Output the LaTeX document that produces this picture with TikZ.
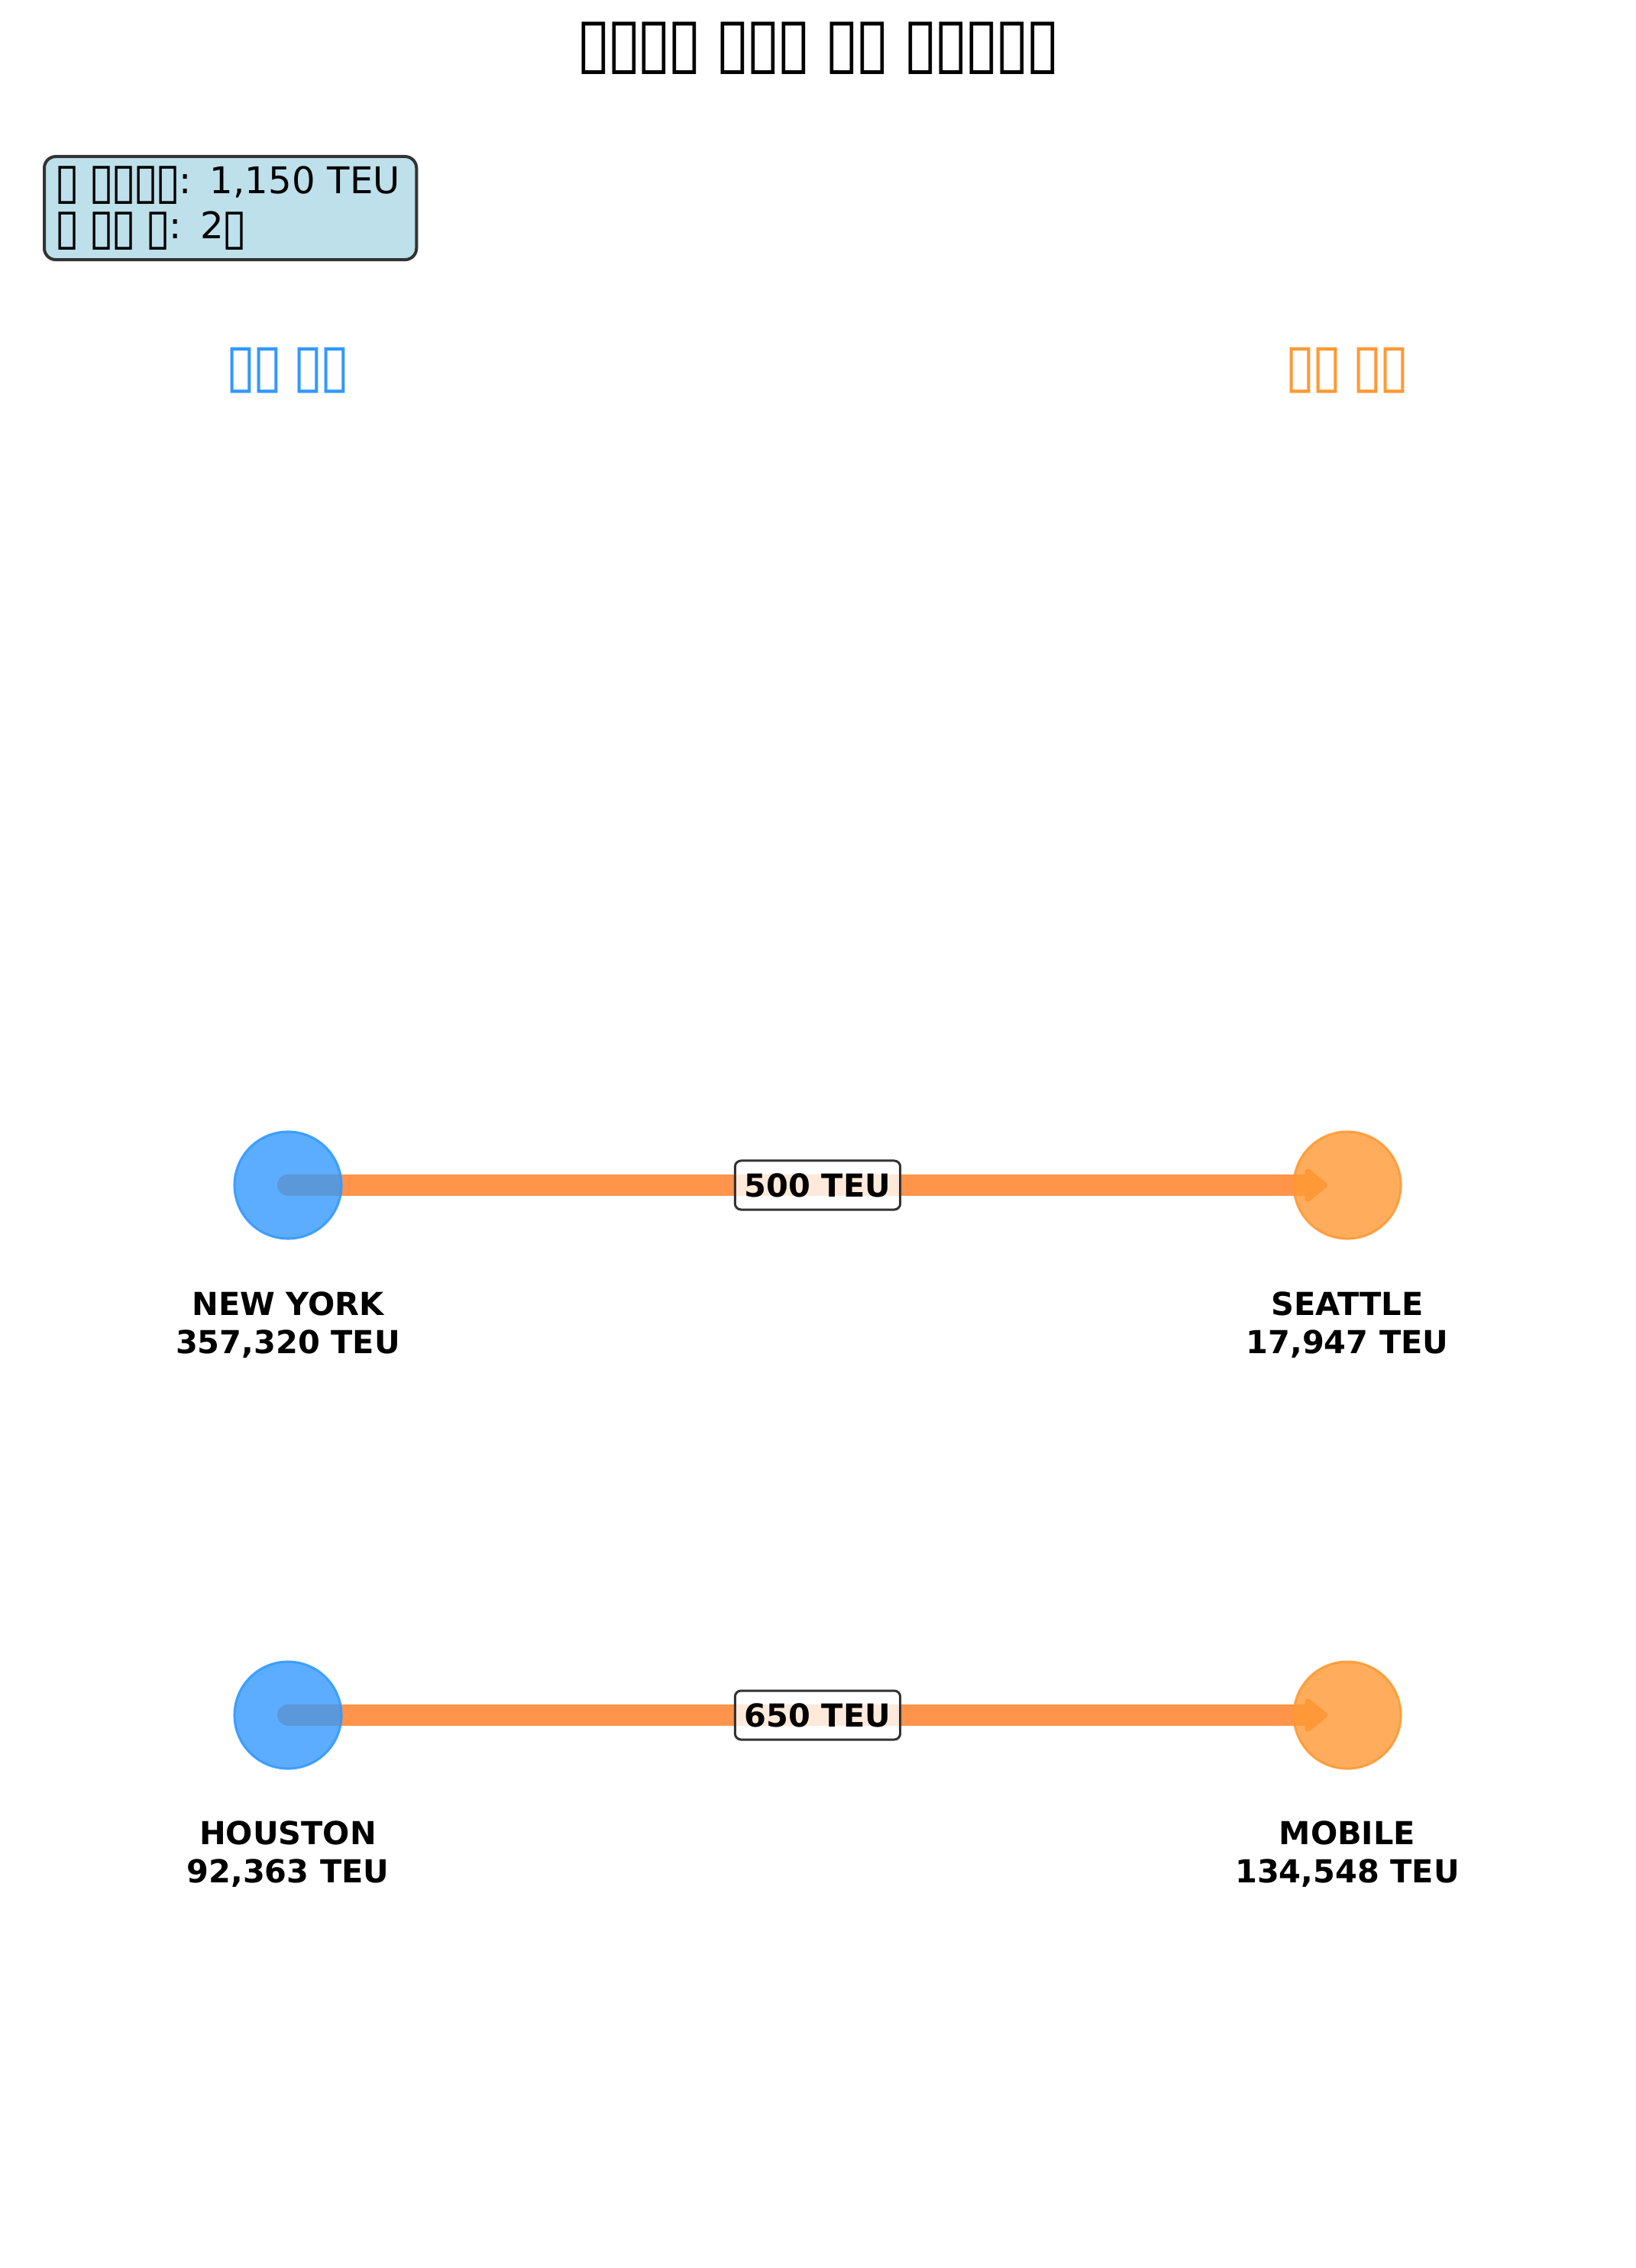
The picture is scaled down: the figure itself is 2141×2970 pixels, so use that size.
\documentclass[tikz,border=0pt]{standalone}
\usepackage{fontspec}
\setmainfont{DejaVu Sans}
\usetikzlibrary{arrows.meta}
\pgfdeclarelayer{bg}
\pgfsetlayers{bg,main}
\definecolor{cblue}{RGB}{51,153,255}
\definecolor{corange}{RGB}{255,153,51}
\definecolor{cline}{RGB}{255,148,74}
\definecolor{infofill}{RGB}{189,224,235}
\definecolor{bordergray}{RGB}{51,51,51}
\newcommand\tf{\makebox[0.6em]{\raisebox{-0.14em}{\scalebox{1.25}[1.35]{▯}}}}
\begin{document}
\begin{tikzpicture}[x=0.01cm,y=-0.01cm,
  port/.style={circle, minimum size=1.4cm, inner sep=0pt, line width=0.03cm},
  src/.style={port, fill=cblue, draw=cblue, fill opacity=0.8, draw opacity=0.9},
  dst/.style={port, fill=corange, draw=corange, fill opacity=0.8, draw opacity=0.9},
  citylbl/.style={font=\bfseries\fontsize{11.8}{14.2}\selectfont, align=center},
  flow/.style={draw=cline, line width=0.28cm, line cap=round,
    -{Triangle[round,length=0.32cm,width=0.5cm]}, shorten >=0.26cm},
  flowlbl/.style={font=\bfseries\fontsize{11.8}{14}\selectfont, fill=white, fill opacity=0.8,
    text opacity=1, draw=bordergray, draw opacity=1, line width=0.03cm, rounded corners=0.08cm,
    inner xsep=0.125cm, inner ysep=0pt, minimum height=0.64cm},
  header/.style={font=\fontsize{16.5}{19}\selectfont}
]
\useasboundingbox (0,0) rectangle (2141,2970);

% title
\node[font=\bfseries\fontsize{18.9}{22}\selectfont] (title) at (1071,63)
  {\tf\tf\tf\tf{} \tf\tf\tf{} \tf\tf{} \tf\tf\tf\tf\tf};

% info box
\node[anchor=north west, fill=infofill, draw=bordergray, line width=0.04cm,
  rounded corners=0.15cm, text width=4.55cm, inner xsep=0.16cm, inner ysep=0pt,
  minimum height=1.35cm, align=left, font=\fontsize{13.7}{17}\selectfont] (info) at (56,203)
  {\tf{} \tf\tf\tf\tf: 1,150 TEU\\ \tf{} \tf\tf{} \tf: 2\tf};

% column headers
\node[header, text=cblue] (hsrc) at (377,485) {\tf\tf{} \tf\tf};
\node[header, text=corange] (hdst) at (1764,485) {\tf\tf{} \tf\tf};

% ports
\node[src] (ny) at (377,1552) {};
\node[dst] (sea) at (1764,1552) {};
\node[src] (hou) at (377,2246) {};
\node[dst] (mob) at (1764,2246) {};

% flows
\begin{pgfonlayer}{bg}
\draw[flow] (ny.center) -- (sea.center) node[flowlbl, midway] (e1) {500 TEU};
\draw[flow] (hou.center) -- (mob.center) node[flowlbl, midway] (e2) {650 TEU};
\end{pgfonlayer}

% city labels
\node[citylbl] (nyl) at (377,1735) {NEW YORK\\357,320 TEU};
\node[citylbl] (seal) at (1764,1735) {SEATTLE\\17,947 TEU};
\node[citylbl] (houl) at (377,2428) {HOUSTON\\92,363 TEU};
\node[citylbl] (mobl) at (1764,2428) {MOBILE\\134,548 TEU};
\end{tikzpicture}
\end{document}
